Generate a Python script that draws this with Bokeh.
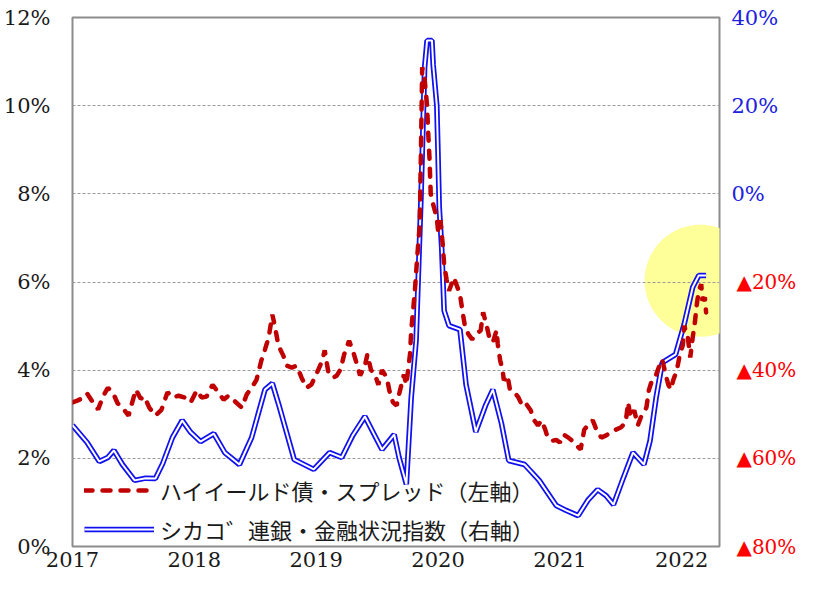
import numpy as np
from bokeh.plotting import figure
from bokeh.models import (Range1d, LinearAxis, FixedTicker, PrintfTickFormatter,
                          Legend, LegendItem, PolyAnnotation)
from bokeh.embed import file_html
from bokeh.resources import INLINE

# ---------------- data ----------------
years = [2017, 2018, 2019, 2020, 2021, 2022]
left_ticks = [0, 2, 4, 6, 8, 10, 12]
right_ticks_pos = [0, 20, 40]
right_ticks_neg = [-20, -40, -60, -80]

label_hy = "ハイイールド債・スプレッド（左軸）"
label_nfci = "シカコ゛連銀・金融状況指数（右軸）"

hy_t = [2017.00, 2017.04, 2017.08, 2017.12, 2017.16, 2017.21, 2017.25, 2017.29, 2017.33, 2017.37,
        2017.41, 2017.46, 2017.52, 2017.56, 2017.59, 2017.63, 2017.68, 2017.73, 2017.78, 2017.82,
        2017.87, 2017.92, 2017.97, 2018.02, 2018.06, 2018.10, 2018.15, 2018.19, 2018.24, 2018.28,
        2018.33, 2018.39, 2018.43, 2018.47, 2018.51, 2018.55, 2018.58, 2018.61, 2018.64, 2018.66,
        2018.69, 2018.73, 2018.76, 2018.80, 2018.84, 2018.88, 2018.92, 2018.96, 2019.00, 2019.05,
        2019.07, 2019.10, 2019.14, 2019.17, 2019.20, 2019.23, 2019.25, 2019.27, 2019.31, 2019.33,
        2019.36, 2019.40, 2019.42, 2019.45, 2019.48, 2019.51, 2019.54, 2019.58, 2019.60, 2019.63,
        2019.66, 2019.68, 2019.72, 2019.74, 2019.77, 2019.78, 2019.81, 2019.83, 2019.85, 2019.86,
        2019.87, 2019.89, 2019.91, 2019.92, 2019.93, 2019.94, 2019.96, 2019.99, 2020.00, 2020.02,
        2020.04, 2020.05, 2020.07, 2020.09, 2020.11, 2020.13, 2020.15, 2020.18, 2020.20, 2020.22,
        2020.25, 2020.28, 2020.31, 2020.35, 2020.37, 2020.40, 2020.42, 2020.45, 2020.48, 2020.49,
        2020.51, 2020.53, 2020.54, 2020.57, 2020.59, 2020.63, 2020.66, 2020.69, 2020.72, 2020.76,
        2020.79, 2020.82, 2020.85, 2020.88, 2020.90, 2020.94, 2020.97, 2021.00, 2021.03, 2021.07,
        2021.10, 2021.13, 2021.17, 2021.20, 2021.23, 2021.27, 2021.30, 2021.34, 2021.38, 2021.42,
        2021.46, 2021.50, 2021.54, 2021.56, 2021.58, 2021.61, 2021.64, 2021.67, 2021.71, 2021.73,
        2021.75, 2021.79, 2021.82, 2021.84, 2021.87, 2021.89, 2021.91, 2021.93, 2021.96, 2021.98,
        2022.01, 2022.02, 2022.05, 2022.07, 2022.09, 2022.11, 2022.12, 2022.14, 2022.16, 2022.17,
        2022.19, 2022.20]
hy_v = [3.27, 3.31, 3.36, 3.47, 3.30, 3.11, 3.40, 3.60, 3.50, 3.25,
        3.15, 2.97, 3.56, 3.35, 3.40, 3.15, 2.97, 3.10, 3.50, 3.38,
        3.42, 3.38, 3.27, 3.54, 3.38, 3.40, 3.67, 3.52, 3.33, 3.42,
        3.30, 3.15, 3.45, 3.60, 3.78, 4.22, 4.47, 4.74, 5.26, 5.01,
        4.56, 4.33, 4.10, 4.06, 4.10, 3.83, 3.60, 3.67, 3.90, 4.22,
        4.45, 3.95, 3.83, 3.88, 4.02, 4.36, 4.51, 4.67, 4.36, 4.17,
        3.88, 4.10, 4.36, 4.00, 3.92, 3.67, 4.00, 3.83, 3.54, 3.27,
        3.20, 3.45, 3.90, 3.67, 4.36, 4.90, 5.80, 6.60, 7.30, 9.00,
        10.87, 10.60, 10.00, 9.35, 8.80, 8.00, 7.76, 7.46, 7.17, 7.40,
        6.80, 6.40, 6.06, 5.80, 5.95, 6.10, 5.95, 5.72, 5.35, 5.01,
        4.81, 4.70, 4.81, 4.90, 5.31, 5.00, 4.75, 4.63, 4.90, 4.60,
        4.22, 4.00, 3.77, 3.88, 3.56, 3.49, 3.38, 3.20, 3.25, 3.09,
        2.86, 2.75, 2.86, 2.65, 2.47, 2.40, 2.42, 2.36, 2.54, 2.47,
        2.40, 2.31, 2.20, 2.65, 2.75, 2.86, 2.65, 2.47, 2.52, 2.59,
        2.65, 2.70, 2.81, 3.27, 2.93, 3.09, 2.75, 2.97, 3.15, 3.54,
        3.72, 3.90, 4.13, 4.24, 3.88, 3.67, 3.56, 3.77, 4.00, 4.29,
        4.58, 5.01, 4.74, 4.29, 4.74, 5.13, 5.42, 5.80, 5.95, 5.58,
        5.65, 5.31]

nfci_t = [2017.00, 2017.12, 2017.22, 2017.29, 2017.34, 2017.41, 2017.51, 2017.60, 2017.68, 2017.74,
          2017.82, 2017.90, 2017.97, 2018.05, 2018.16, 2018.25, 2018.37, 2018.47, 2018.58, 2018.64,
          2018.70, 2018.82, 2018.98, 2019.11, 2019.21, 2019.30, 2019.40, 2019.48, 2019.54, 2019.64,
          2019.68, 2019.74, 2019.78, 2019.82, 2019.86, 2019.89, 2019.91, 2019.95, 2019.96, 2019.99,
          2020.00, 2020.01, 2020.03, 2020.05, 2020.09, 2020.18, 2020.23, 2020.31, 2020.39, 2020.45,
          2020.52, 2020.58, 2020.71, 2020.83, 2020.97, 2021.05, 2021.15, 2021.23, 2021.31, 2021.38,
          2021.44, 2021.52, 2021.60, 2021.69, 2021.74, 2021.79, 2021.84, 2021.95, 2022.02, 2022.09,
          2022.14, 2022.20]
nfci_v = [-52.5, -56.4, -60.7, -59.8, -58.2, -61.4, -65.0, -64.5, -64.6, -61.2,
          -55.3, -51.4, -54.1, -56.2, -54.4, -58.7, -61.4, -55.3, -44.4, -43.0,
          -48.5, -60.3, -62.5, -58.7, -59.8, -54.8, -50.5, -54.8, -58.0, -54.6,
          -59.8, -65.9, -46.2, -33.3, -1.0, 28.7, 34.8, 34.8, 29.3, 20.0,
          9.0, -3.0, -12.2, -26.5, -29.9, -30.8, -43.3, -54.0, -48.0, -44.4,
          -52.0, -60.5, -61.4, -65.0, -70.7, -71.8, -73.0, -69.5, -67.1, -68.5,
          -70.5, -64.5, -58.7, -61.4, -56.0, -46.2, -38.3, -36.4, -29.6, -21.2,
          -18.5, -18.5]

# highlight circle (centre in data units, radius in pixels)
hl_center = (2022.155, 6.03)
hl_radius_px = 56

# ---------------- layout ----------------
W, H = 799, 573
BL, BR, BT, BB = 72, 80, 17, 27
X0, X1 = 2017.0, 2022.31
Y0, Y1 = 0, 12
R0, R1 = -80, 40
fw, fh = W - BL - BR, H - BT - BB

NUM_FONT = "DejaVu Serif"

p = figure(width=W, height=H, output_backend="svg", toolbar_location=None,
           x_range=Range1d(X0, X1), y_range=Range1d(Y0, Y1),
           min_border_left=BL, min_border_right=BR, min_border_top=BT, min_border_bottom=BB,
           background_fill_color="white", border_fill_color="white")
p.extra_y_ranges = {"right": Range1d(R0, R1)}

p.outline_line_color = "#8c8c8c"
p.outline_line_width = 2
p.xgrid.visible = False
p.ygrid.grid_line_color = "#9a9a9a"
p.ygrid.grid_line_dash = "3 2"
p.ygrid.grid_line_width = 1

def style_axis(ax, color, size, standoff):
    ax.axis_line_color = None
    ax.major_tick_line_color = None
    ax.minor_tick_line_color = None
    ax.major_tick_out = 0
    ax.major_tick_in = 0
    ax.minor_tick_out = 0
    ax.minor_tick_in = 0
    ax.major_label_text_font = NUM_FONT
    ax.major_label_text_font_size = size
    ax.major_label_text_color = color
    ax.major_label_standoff = standoff

p.xaxis.ticker = FixedTicker(ticks=years)
p.xaxis.formatter = PrintfTickFormatter(format="%d")
style_axis(p.xaxis[0], "#1a1a1a", "21px", 5)

p.yaxis.ticker = FixedTicker(ticks=left_ticks)
p.yaxis.formatter = PrintfTickFormatter(format="%d%%")
style_axis(p.yaxis[0], "#1a1a1a", "21px", 22)

# right axis: positive ticks (blue)
ra = LinearAxis(y_range_name="right", ticker=FixedTicker(ticks=right_ticks_pos),
                formatter=PrintfTickFormatter(format="%d%%"))
style_axis(ra, "#2020e0", "21px", 12)
p.add_layout(ra, "right")

# right axis: negative ticks (red, shown with ▲), pulled back onto the same column
rb = LinearAxis(y_range_name="right", ticker=FixedTicker(ticks=right_ticks_neg),
                major_label_overrides={t: "▲%d%%" % (-t) for t in right_ticks_neg})
style_axis(rb, "#ff0000", "20px", -45)
p.add_layout(rb, "right")

# yellow highlight circle
th = np.linspace(0, 2 * np.pi, 90)
rx = hl_radius_px * (X1 - X0) / fw
ry = hl_radius_px * (Y1 - Y0) / fh
circ = PolyAnnotation(xs=list(hl_center[0] + rx * np.cos(th)),
                      ys=list(hl_center[1] + ry * np.sin(th)),
                      fill_color="#ffff99", fill_alpha=1.0, line_color=None, level="image")
p.add_layout(circ)

# lines
b1 = p.line(nfci_t, nfci_v, y_range_name="right", line_color="#1010f0", line_width=5.5)
b2 = p.line(nfci_t, nfci_v, y_range_name="right", line_color="white", line_width=2)
r = p.line(hy_t, hy_v, line_color="#c00000", line_width=4.5, line_dash="8 10", line_cap="round")

legend = Legend(items=[LegendItem(label=label_hy, renderers=[r]),
                       LegendItem(label=label_nfci, renderers=[b1, b2])],
                location=(12, 1), orientation="vertical",
                label_text_font="Noto Sans CJK JP", label_text_font_size="22px",
                label_text_color="#1a1a1a",
                glyph_width=70, glyph_height=30, label_height=30, label_standoff=6,
                spacing=7, padding=0, margin=0,
                background_fill_alpha=0, border_line_alpha=0)
p.add_layout(legend)

open("out.html", "w").write(file_html(p, INLINE))
